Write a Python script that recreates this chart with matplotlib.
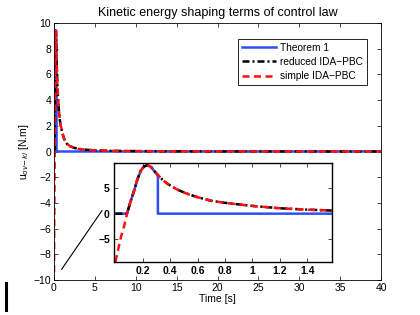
import matplotlib
matplotlib.use("Agg")
import matplotlib.pyplot as plt
from matplotlib.lines import Line2D

# simple IDA-PBC (red) and reduced IDA-PBC (black)
t_simple = [0, 0.02, 0.04, 0.065, 0.085, 0.11, 0.137, 0.16, 0.186, 0.21, 0.234,
            0.26, 0.28, 0.31, 0.34, 0.38, 0.45, 0.52, 0.6, 0.7, 0.8, 0.9, 1.0,
            1.2, 1.4, 1.6, 2.0, 2.5, 3.0, 4.0, 5.0, 7.0, 10, 15, 20, 30, 40]
u_simple = [-9.4, -7.0, -4.6, -2.3, 0.0, 2.3, 4.5, 6.6, 8.4, 9.2, 9.4,
            9.1, 8.4, 7.5, 6.7, 5.8, 4.7, 3.9, 3.2, 2.5, 2.1, 1.8, 1.5,
            1.05, 0.78, 0.58, 0.4, 0.28, 0.2, 0.13, 0.09, 0.05, 0.03, 0.015, 0.01, 0.005, 0.0]

t_reduced = [0, 0.085, 0.11, 0.137, 0.16, 0.186, 0.21, 0.234,
             0.26, 0.28, 0.31, 0.34, 0.38, 0.45, 0.52, 0.6, 0.7, 0.8, 0.9, 1.0,
             1.2, 1.4, 1.6, 2.0, 2.5, 3.0, 4.0, 5.0, 7.0, 10, 15, 20, 30, 40]
u_reduced = [0.0, 0.0, 2.3, 4.5, 6.6, 8.4, 9.2, 9.4,
             9.1, 8.4, 7.5, 6.7, 5.8, 4.7, 3.9, 3.2, 2.5, 2.1, 1.8, 1.5,
             1.05, 0.78, 0.58, 0.4, 0.28, 0.2, 0.13, 0.09, 0.05, 0.03, 0.015, 0.01, 0.005, 0.0]

# Theorem 1 (blue)
t_thm = [0, 0.085, 0.11, 0.137, 0.16, 0.186, 0.21, 0.234, 0.26, 0.28, 0.31, 0.31, 40]
u_thm = [0.0, 0.0, 2.3, 4.5, 6.6, 8.4, 9.2, 9.4, 9.1, 8.4, 7.5, 0.0, 0.0]

# pointer line from main plot to the zoom box
pointer_t = [0.94, 5.87]
pointer_u = [-9.16, -4.6]

blue = '#2f4ff5'
red = '#ff1010'

plt.rcParams['font.family'] = ['Liberation Sans', 'DejaVu Sans']
plt.rcParams['font.size'] = 7.5

fig = plt.figure(figsize=(4.2, 3.15), dpi=100)
ax = fig.add_axes([54 / 420, 1 - 280 / 315, 327 / 420, 257 / 315])


def draw_curves(a):
    a.plot(t_thm, u_thm, color=blue, lw=1.8, label='Theorem 1')
    a.plot(t_reduced, u_reduced, color='black', lw=1.8, ls=(0, (2.8, 1.2, 0.8, 1.2)),
           label='reduced IDA\u2212PBC')
    a.plot(t_simple, u_simple, color=red, lw=1.8, ls=(0, (2.8, 1.8)), label='simple IDA\u2212PBC')


draw_curves(ax)
ax.plot(pointer_t, pointer_u, color='black', lw=0.8)
ax.set_xlim(0, 40)
ax.set_ylim(-10, 10)
ax.set_xticks(range(0, 41, 5))
ax.set_yticks(range(-10, 11, 2))
ax.set_yticklabels(['\u221210', '\u22128', '\u22126', '\u22124', '\u22122', '0', '2', '4', '6', '8', '10'])
ax.tick_params(direction='in', top=True, right=True, length=3, width=0.5, pad=2)
for s in ax.spines.values():
    s.set_linewidth(0.6)
ax.set_title('Kinetic energy shaping terms of control law', fontsize=9, pad=5)
ax.set_xlabel('Time [s]', labelpad=1)
ax.set_ylabel(r'u$_{ov\!-\!ki}$ [N.m]', labelpad=2)
leg = ax.legend(loc='upper right', bbox_to_anchor=(0.956, 0.938), borderaxespad=0,
                fancybox=False, edgecolor='black', framealpha=1, handlelength=3.3,
                borderpad=0.4, labelspacing=0.4, handletextpad=0.4, fontsize=7.3)
leg.get_frame().set_linewidth(0.6)

ins = fig.add_axes([114 / 420, 1 - 262 / 315, 218 / 420, 99 / 315])
draw_curves(ins)
ins.set_xlim(-0.01, 1.58)
ins.set_ylim(-9.4, 9.85)
ins.set_xticks([0.2, 0.4, 0.6, 0.8, 1.0, 1.2, 1.4])
ins.set_xticklabels(['0.2', '0.4', '0.6', '0.8', '1', '1.2', '1.4'], fontweight='bold')
ins.set_yticks([-5, 0, 5])
ins.set_yticklabels(['\u22125', '0', '5'], fontweight='bold')
ins.tick_params(direction='in', top=True, right=True, length=3, width=0.5, pad=3)
for s in ins.spines.values():
    s.set_linewidth(1.0)

# stray vertical bar in the lower left corner
fig.add_artist(Line2D([6 / 420, 6 / 420], [1 - 310 / 315, 1 - 283 / 315],
                      color='black', lw=2.2))

fig.savefig('out.png', dpi=100)
